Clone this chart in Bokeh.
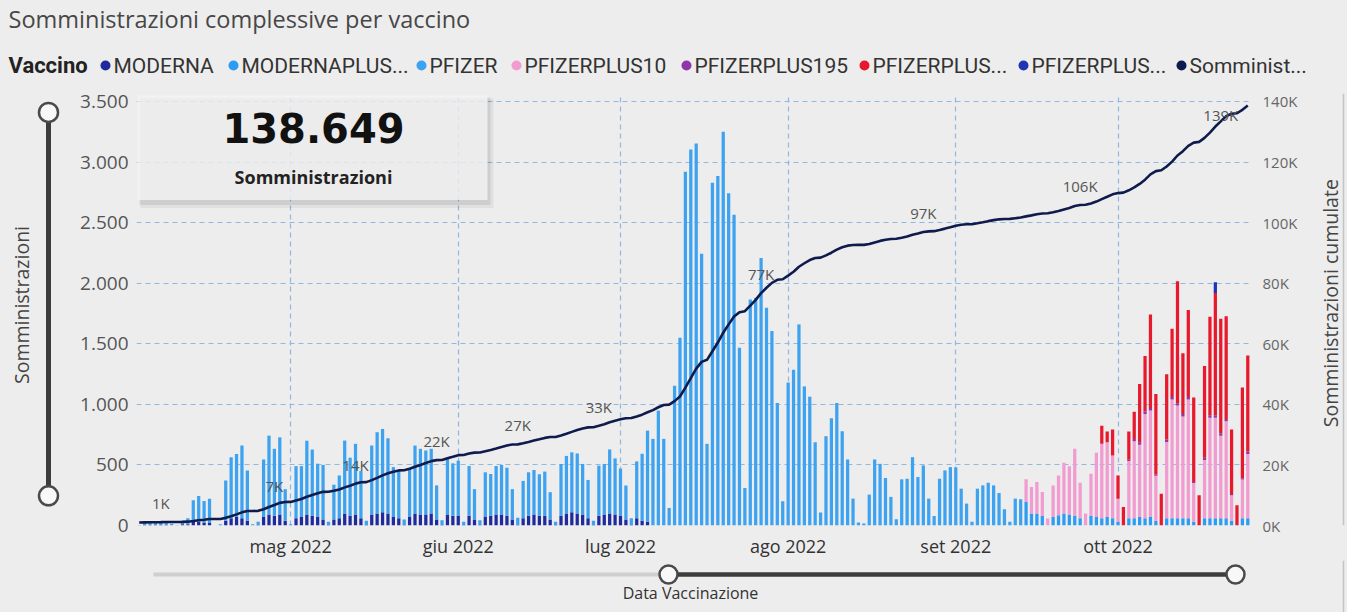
import math
import numpy as np
import pandas as pd
from bokeh.plotting import figure
from bokeh.models import ColumnDataSource, Range1d, LinearAxis, FixedTicker
from bokeh.layouts import column, row
from bokeh.core.properties import value
from bokeh.embed import file_html
from bokeh.resources import INLINE

# ======================= DATA =======================
titolo = "Somministrazioni complessive per vaccino"
data_inizio = "2022-04-03"
data_fine = "2022-10-25"

# daily administrations per vaccine (one value per day, 3 Apr -> 25 Oct 2022)
moderna = [
    0, 5, 5, 5, 5, 5, 0,
    0, 10, 10, 30, 30, 25, 20,
    0, 0, 40, 60, 70, 60, 40,
    0, 5, 70, 90, 80, 90, 40,
    0, 60, 70, 90, 80, 70, 50,
    5, 50, 60, 100, 80, 90, 60,
    5, 90, 100, 110, 100, 70, 60,
    5, 70, 100, 90, 90, 100, 50,
    5, 90, 80, 80, 5, 80, 50,
    5, 70, 80, 90, 90, 80, 50,
    5, 60, 80, 90, 80, 80, 50,
    5, 80, 100, 110, 100, 90, 60,
    5, 80, 90, 100, 90, 80, 50,
    5, 60, 40, 30, 0, 0, 0,
] + [0] * 108

pfizer = [
    5, 25, 20, 25, 15, 30, 15,
    5, 30, 50, 178, 214, 178, 200,
    0, 10, 332, 504, 521, 600, 415,
    10, 25, 475, 652, 553, 638, 260,
    10, 430, 420, 610, 547, 440, 450,
    25, 287, 353, 601, 480, 584, 390,
    35, 570, 670, 687, 620, 412, 390,
    45, 398, 560, 543, 529, 533, 281,
    39, 464, 433, 455, 25, 411, 250,
    39, 369, 345, 401, 410, 397, 250,
    58, 308, 359, 368, 343, 365, 225,
    25, 428, 474, 494, 495, 418, 316,
    35, 414, 418, 528, 464, 390, 280,
    55, 469, 552, 753, 715, 948, 715,
    145, 1153, 1550, 2920, 3103, 3153, 2243,
    674, 2829, 2884, 3249, 2742, 2564, 1468,
    310, 1865, 1879, 2208, 1797, 1605, 1011,
    200, 1180, 1285, 1660, 1148, 1063, 687,
    107, 737, 885, 1011, 778, 545, 222,
    25, 16, 255, 545, 509, 392, 236,
    52, 381, 386, 564, 400, 496, 222,
    79, 386, 455, 482, 480, 304, 181,
    30, 304, 331, 353, 331, 268, 134,
    30, 222, 216, 0, 0, 0, 0,
] + [0] * 38

modernaplus = [0] * 164 + [
    195, 99, 99, 80, 0, 71, 85,
    99, 90, 80, 60, 0, 80, 70,
    60, 70, 60, 30, 0, 60, 60,
    70, 60, 70, 40, 0, 60, 60,
    60, 60, 60, 30, 0, 60, 60,
    60, 60, 60, 40, 0, 60, 60,
]

pfizerplus10 = [0] * 164 + [
    186, 219, 260, 197, 58, 260, 328,
    419, 400, 553, 293, 99, 347, 530,
    614, 617, 518, 191, 0, 472, 635,
    597, 860, 880, 370, 0, 630, 980,
    930, 840, 980, 320, 0, 480, 830,
    830, 680, 800, 210, 0, 320, 530,
]

pfizerplus195 = [0] * 183 + [
    10, 20,
    20, 20, 20, 10, 0, 20, 20,
    20, 20, 20, 10, 0, 20, 20,
    20, 20, 20, 10, 0, 10, 20,
]

pfizerplus_a = [0] * 178 + [
    150, 88, 214, 192, 153, 233, 224,
    480, 460, 772, 665, 263, 539, 564,
    1006, 502, 718, 697, 249, 757, 813,
    1010, 946, 848, 532, 167, 749, 794,
]

pfizerplus_b = [0] * 199 + [88] + [0] * 6

somministrazioni_precedenti = 1000      # cumulative before 3 Apr
totale_somministrazioni = 138649        # KPI card

serie_nomi = ["MODERNA", "MODERNAPLUS", "PFIZER", "PFIZERPLUS10",
              "PFIZERPLUS195", "PFIZERPLUS_A", "PFIZERPLUS_B"]
legenda_titolo = "Vaccino"
legenda_etichette = ["MODERNA", "MODERNAPLUS...", "PFIZER", "PFIZERPLUS10",
                     "PFIZERPLUS195", "PFIZERPLUS...", "PFIZERPLUS...", "Somminist..."]

mesi = ["2022-05-01", "2022-06-01", "2022-07-01", "2022-08-01", "2022-09-01", "2022-10-01"]
etichette_mesi = ["mag 2022", "giu 2022", "lug 2022", "ago 2022", "set 2022", "ott 2022"]
tick_sx = [0, 500, 1000, 1500, 2000, 2500, 3000, 3500]
etichette_sx = ["0", "500", "1.000", "1.500", "2.000", "2.500", "3.000", "3.500"]
tick_dx = [0, 20000, 40000, 60000, 80000, 100000, 120000, 140000]
etichette_dx = ["0K", "20K", "40K", "60K", "80K", "100K", "120K", "140K"]
date_etichette = ["2022-04-07", "2022-04-28", "2022-05-13", "2022-05-28", "2022-06-12",
                  "2022-06-27", "2022-07-27", "2022-08-26", "2022-09-24", "2022-10-25"]
titolo_y_sx = "Somministrazioni"
titolo_y_dx = "Somministrazioni cumulate"
titolo_x = "Data Vaccinazione"
card_sottotitolo = "Somministrazioni"

# ======================= STYLE / LAYOUT =======================
BG = "#EDEDED"
colori_serie = ["#1F2A9C", "#2C9BF2", "#3DA2F0", "#F19BD0", "#8E36AA", "#E8192C", "#1E36B4"]
colore_linea = "#0F1B4C"
GRID = "#93B8E0"
FONT = "Open Sans"
LFONT = "Roboto"

W, H = 1347, 612
HEAD_H, MID_H = 80, 480
BOT_H = H - HEAD_H - MID_H
LEFT_W, RIGHT_W = 66, 35
MAIN_W = W - LEFT_W - RIGHT_W
MB_L, MB_R, MB_T, MB_B = 70, 62, 13, 33
FRAME_W = MAIN_W - MB_L - MB_R
FRAME_H = MID_H - MB_T - MB_B
PX_3500 = 426.0  # pixels from 0 to 3500


def panel(w, h):
    f = figure(width=w, height=h, x_range=Range1d(0, w), y_range=Range1d(0, h),
               output_backend="svg", toolbar_location=None, min_border=0,
               background_fill_color=BG, border_fill_color=BG, outline_line_color=None,
               x_axis_type=None, y_axis_type=None)
    f.xgrid.visible = False
    f.ygrid.visible = False
    return f


# ======================= DERIVED =======================
giorni = pd.date_range(data_inizio, data_fine, freq="D")
serie = [moderna, modernaplus, pfizer, pfizerplus10, pfizerplus195, pfizerplus_a, pfizerplus_b]
totale = np.sum(np.array(serie, dtype=float), axis=0)
cumulate = somministrazioni_precedenti + np.cumsum(totale)

# ======================= MAIN CHART =======================
y_top = 3500 * FRAME_H / PX_3500
x_start = pd.Timestamp(data_inizio) - pd.Timedelta(hours=12)
x_end = pd.Timestamp(data_fine) + pd.Timedelta(hours=12)
px_per_day = FRAME_W / ((x_end - x_start) / pd.Timedelta(days=1))
cum_per_px = (y_top * 40) / FRAME_H

main = figure(width=MAIN_W, height=MID_H, x_axis_type="datetime",
              x_range=Range1d(x_start, x_end), y_range=Range1d(0, y_top),
              output_backend="svg", toolbar_location=None,
              min_border_left=MB_L, min_border_right=MB_R,
              min_border_top=MB_T, min_border_bottom=MB_B,
              background_fill_color=BG, border_fill_color=BG, outline_line_color=None)
main.extra_y_ranges = {"cum": Range1d(0, y_top * 40), "py": Range1d(0, FRAME_H)}
main.extra_x_ranges = {"px": Range1d(0, FRAME_W)}

mesi_ms = [pd.Timestamp(m).value / 1e6 for m in mesi]

main.xgrid.ticker = FixedTicker(ticks=mesi_ms)
main.ygrid.ticker = FixedTicker(ticks=tick_sx[1:])
for g in (main.xgrid[0], main.ygrid[0]):
    g.grid_line_color = GRID
    g.grid_line_dash = "5 4"
    g.grid_line_width = 1.2

xa = main.xaxis[0]
xa.ticker = FixedTicker(ticks=mesi_ms)
xa.major_label_overrides = {t: l for t, l in zip(mesi_ms, etichette_mesi)}
xa.major_label_text_font_size = "18px"
xa.major_label_text_color = "#333333"
xa.major_label_standoff = 8

ya = main.yaxis[0]
ya.ticker = FixedTicker(ticks=tick_sx)
ya.major_label_overrides = {t: l for t, l in zip(tick_sx, etichette_sx)}
ya.major_label_text_font_size = "19px"
ya.major_label_text_color = "#555555"
ya.major_label_standoff = 8

ra = LinearAxis(y_range_name="cum", ticker=FixedTicker(ticks=tick_dx),
                major_label_overrides={t: l for t, l in zip(tick_dx, etichette_dx)})
ra.major_label_text_font_size = "15px"
ra.major_label_text_color = "#666666"
ra.major_label_standoff = 12
main.add_layout(ra, "right")

for ax in (xa, ya, ra):
    ax.axis_line_color = None
    ax.major_tick_line_color = None
    ax.minor_tick_line_color = None
    ax.major_tick_out = 0
    ax.major_tick_in = 0
    ax.minor_tick_out = 0
    ax.major_label_text_font = FONT

# KPI card (pixel coordinates inside the frame)
main.quad(left=[4], right=[357], bottom=[319], top=[429], x_range_name="px", y_range_name="py",
          fill_color="#000000", fill_alpha=0.05, line_color=None)
main.quad(left=[3], right=[354], bottom=[322], top=[430], x_range_name="px", y_range_name="py",
          fill_color="#000000", fill_alpha=0.08, line_color=None)
main.quad(left=[1], right=[351], bottom=[327], top=[432], x_range_name="px", y_range_name="py",
          fill_color="#F4F4F4", fill_alpha=0.8, line_color=None)
main.text(x=[177], y=[399], text=[f"{totale_somministrazioni:,}".replace(",", ".")],
          x_range_name="px", y_range_name="py",
          text_font=value("DejaVu Sans"), text_font_style="bold", text_font_size=value("40px"),
          text_color="#111111", text_align="center", text_baseline="middle")
main.text(x=[177], y=[350], text=[card_sottotitolo], x_range_name="px", y_range_name="py",
          text_font=value(FONT), text_font_style="bold", text_font_size=value("18px"),
          text_color="#222222", text_align="center", text_baseline="middle")

# stacked daily bars
src = ColumnDataSource(dict(data=giorni, **{n: s for n, s in zip(serie_nomi, serie)}))
main.vbar_stack(serie_nomi, x="data", width=0.6 * 86400000, source=src,
                fill_color=colori_serie, line_color=None)

# cumulative line
main.line(giorni, cumulate, y_range_name="cum", line_color=colore_linea, line_width=2.6)

idx = [giorni.get_loc(pd.Timestamp(d)) for d in date_etichette]
lab_txt = [f"{int(round(cumulate[i] / 1000))}K" for i in idx]
lab_x = [giorni[i] for i in idx[:-1]]
lab_y = [cumulate[i] + 19 * cum_per_px for i in idx[:-1]]
lab_x.append(giorni[idx[-1]] - pd.Timedelta(days=27 / px_per_day))
lab_y.append(cumulate[idx[-1]] - 9 * cum_per_px)
main.text(x=lab_x, y=lab_y, text=lab_txt, y_range_name="cum",
          text_font=value(FONT), text_font_size=value("15px"), text_color="#555555",
          text_align="center", text_baseline="middle")

# ======================= HEADER (title + legend) =======================
head = panel(W, HEAD_H)
head.text(x=[8], y=[HEAD_H - 18], text=[titolo], text_font=value(FONT),
          text_font_size=value("23.5px"), text_color="#474747",
          text_align="left", text_baseline="middle")
leg_y = HEAD_H - 65
head.text(x=[8], y=[leg_y], text=[legenda_titolo], text_font=value(LFONT),
          text_font_style="bold", text_font_size=value("22px"), text_color="#222222",
          text_align="left", text_baseline="middle")
leg_text_x = [113, 241, 429, 524, 694, 872, 1031, 1189]
leg_cols = colori_serie + [colore_linea]
head.scatter(x=[t - 8 for t in leg_text_x], y=[leg_y] * len(leg_text_x), size=10,
             marker="circle", fill_color=leg_cols, line_color=None)
head.text(x=leg_text_x, y=[leg_y] * len(leg_text_x), text=legenda_etichette,
          text_font=value(LFONT), text_font_size=value("21px"), text_color="#333333",
          text_align="left", text_baseline="middle")

# ======================= LEFT PANEL (axis title + slider) =======================
left = panel(LEFT_W, MID_H)
left.text(x=[21], y=[245], text=[titolo_y_sx], angle=math.pi / 2,
          text_font=value(FONT), text_font_size=value("19.5px"), text_color="#444444",
          text_align="center", text_baseline="middle")
left.line([48, 48], [33, 459], line_color="#3C3C3C", line_width=5)
left.scatter([48, 48], [459, 33], size=19, marker="circle",
             fill_color="#F8F8F8", line_color="#4A4A4A", line_width=2.5)

# ======================= RIGHT PANEL (axis title + visual border) =======================
right = panel(RIGHT_W, MID_H)
right.text(x=[18], y=[247], text=[titolo_y_dx], angle=math.pi / 2,
           text_font=value(FONT), text_font_size=value("19.5px"), text_color="#444444",
           text_align="center", text_baseline="middle")
right.line([31, 31], [0, MID_H], line_color="#C4C4C4", line_width=1.5)

# ======================= BOTTOM PANEL (slider + x title) =======================
bottom = panel(W, BOT_H)
bottom.line([153, 668], [38, 38], line_color="#CFCFCF", line_width=4)
bottom.line([668, 1235], [38, 38], line_color="#3C3C3C", line_width=4.5)
bottom.scatter([668, 1235], [38, 38], size=18, marker="circle",
               fill_color="#F8F8F8", line_color="#4A4A4A", line_width=2.5)
bottom.line([1343, 1343], [0, BOT_H], line_color="#C4C4C4", line_width=1.5)
bottom.text(x=[690], y=[20], text=[titolo_x], text_font=value(FONT),
            text_font_size=value("16px"), text_color="#333333",
            text_align="center", text_baseline="middle")

layout = column(head, row(left, main, right), bottom)

html = file_html(layout, INLINE, title=titolo)
html = html.replace("</head>", "<style>html, body {background:#EDEDED;}</style></head>", 1)
open("out.html", "w").write(html)
